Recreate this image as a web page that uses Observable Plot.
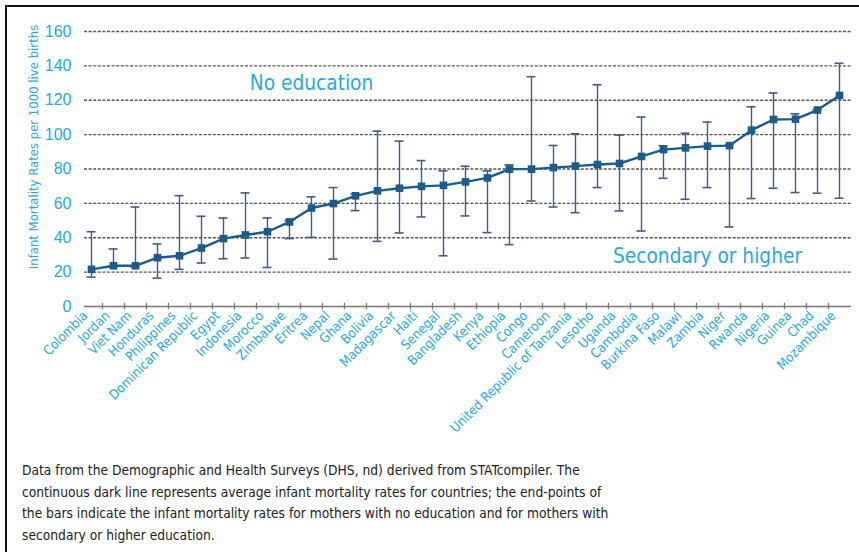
<!DOCTYPE html>
<html><head><meta charset="utf-8">
<script src="https://cdn.jsdelivr.net/npm/d3@7"></script>
<script src="https://cdn.jsdelivr.net/npm/@observablehq/plot@0.6"></script>
<style>
body{margin:0;background:#fff;}
#wrap{position:relative;width:859px;height:552px;overflow:hidden;background:#fff;font-family:"DejaVu Sans Condensed","Liberation Sans Narrow",sans-serif;}
#frame{position:absolute;left:5px;top:5px;right:-10px;bottom:-10px;border-top:2px solid #111;border-left:2px solid #111;}
#chart{position:absolute;left:0;top:0;}
#caption{position:absolute;left:22px;top:460px;font-size:13.7px;line-height:21.7px;color:#222;white-space:nowrap;}
</style></head><body>
<div id="wrap"><div id="frame"></div><div id="chart"></div>
<div id="caption">Data from the Demographic and Health Surveys (DHS, nd) derived from STATcompiler. The<br>continuous dark line represents average infant mortality rates for countries; the end-points of<br>the bars indicate the infant mortality rates for mothers with no education and for mothers with<br>secondary or higher education.</div></div>
<script>
const countries = ["Colombia","Jordan","Viet Nam","Honduras","Philippines","Dominican Republic","Egypt","Indonesia","Morocco","Zimbabwe","Eritrea","Nepal","Ghana","Bolivia","Madagascar","Haiti","Senegal","Bangladesh","Kenya","Ethiopia","Congo","Cameroon","United Republic of Tanzania","Lesotho","Uganda","Cambodia","Burkina Faso","Malawi","Zambia","Niger","Rwanda","Nigeria","Guinea","Chad","Mozambique"];
const average = [21.6,23.7,23.7,28.4,29.5,34,39.5,41.6,43.5,49.2,57.3,59.9,64.4,67.3,68.8,69.9,70.5,72.5,74.8,79.9,79.9,80.8,81.7,82.6,83.2,87.3,91.3,92.3,93.3,93.6,102.6,108.8,109,114.3,122.8];
const noEducation = [43.5,33.5,57.9,36.4,64.5,52.5,51.5,66.1,51.5,50,63.8,69.2,65.5,102,96.2,84.9,78.9,81.6,78.9,82.4,133.7,93.7,100.5,129,99.7,110.2,93.5,100.8,107.3,94,116.2,124.2,112.1,114.5,141.5];
const secondaryOrHigher = [17.1,23,23,16.5,21.6,25.3,27.8,28.2,22.7,39.5,40.2,27.6,55.8,37.9,42.8,52.1,29.5,52.7,43.0,36.0,61.4,57.9,54.6,69.2,55.6,43.9,74.6,62.4,69.2,46.3,62.8,68.8,66.3,65.9,63];
const yTicks = [0,20,40,60,80,100,120,140,160];
const yLabel = "Infant Mortality Rates per 1000 live births";
const annotations = [
  {label:"No education", country:"Eritrea", value:130},
  {label:"Secondary or higher", country:"Zambia", value:29}
];

const W=859, H=430, mL=78, mR=8, mT=31, mB=124;
const bw=(W-mL-mR)/countries.length;
const capInset=(bw-9)/2;
const data = countries.map((c,i)=>({country:c, avg:average[i], noEd:noEducation[i], sec:secondaryOrHigher[i]}));
const blue="#27a9e1", dark="#1d5b8b", barC="#3d5c8d";
const font='"DejaVu Sans Condensed","Liberation Sans Narrow",sans-serif';

const chart = Plot.plot({
  width:W, height:H, marginLeft:mL, marginRight:mR, marginTop:mT, marginBottom:mB,
  style:{fontFamily:font, background:"transparent", overflow:"visible"},
  x:{type:"band", domain:countries, padding:0, axis:null},
  y:{domain:[0,160], axis:null},
  marks:[
    Plot.ruleY(yTicks.filter(d=>d>0), {y:d=>d, stroke:"#555", strokeWidth:1.3, strokeDasharray:"3 1.6", insetLeft:6}),
    Plot.ruleY([0], {y:d=>d, stroke:"#777", strokeWidth:1.5, insetLeft:6}),
    Plot.ruleX(countries.slice(1), {x:d=>d, dx:-bw/2, y1:-1.9, y2:1.9, stroke:"#777", strokeWidth:1.3}),
    Plot.text(yTicks, {frameAnchor:"left", y:d=>d, text:d=>String(d), textAnchor:"end", dx:-7, fill:blue, fontSize:16, fontFamily:"Liberation Sans, Arial, sans-serif"}),
    Plot.text([yLabel], {frameAnchor:"left", text:d=>d, textAnchor:"middle", dx:-45, dy:-22, rotate:-90, fontSize:13, fill:blue}),
    Plot.text(countries, {x:d=>d, y:()=>0, text:d=>d, rotate:-45, textAnchor:"end", dx:-6, dy:7, fill:blue, fontSize:13.3}),
    Plot.ruleX(data, {x:"country", y1:"sec", y2:"noEd", stroke:barC, strokeWidth:1.4}),
    Plot.tickY(data, {x:"country", y:"noEd", insetLeft:capInset, insetRight:capInset, stroke:barC, strokeWidth:1.6}),
    Plot.tickY(data, {x:"country", y:"sec", insetLeft:capInset, insetRight:capInset, stroke:barC, strokeWidth:1.6}),
    Plot.line(data, {x:"country", y:"avg", stroke:dark, strokeWidth:2.4}),
    Plot.dot(data, {x:"country", y:"avg", symbol:"square", r:4.3, fill:dark, stroke:"none"}),
    Plot.text(annotations, {x:"country", y:"value", text:"label", fontSize:20.7, fill:blue})
  ]
});
document.getElementById("chart").appendChild(chart);
</script>
</body></html>
